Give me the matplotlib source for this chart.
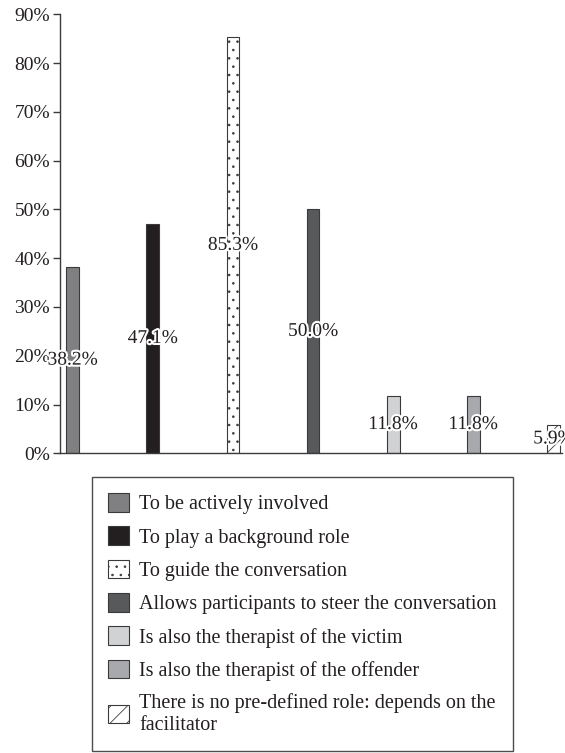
import matplotlib
matplotlib.use("Agg")
import matplotlib.pyplot as plt
import matplotlib.patheffects as pe
from matplotlib.patches import Patch

plt.rcParams['font.family'] = ['Liberation Serif', 'DejaVu Serif']
plt.rcParams['hatch.linewidth'] = 0.6

categories = [
    "To be actively involved",
    "To play a background role",
    "To guide the conversation",
    "Allows participants to steer the conversation",
    "Is also the therapist of the victim",
    "Is also the therapist of the offender",
    "There is no pre-defined role: depends on the\nfacilitator",
]
values = [38.2, 47.1, 85.3, 50.0, 11.8, 11.8, 5.9]
colors = ["#808083", "#231f20", "#ffffff", "#58595b", "#d1d2d4", "#a7a9ac", "#ffffff"]
hatches = [None, None, "..", None, None, None, "//"]
yticks = [0, 10, 20, 30, 40, 50, 60, 70, 80, 90]

edge = "#3a3a3a"
text_color = "#231f20"

fig = plt.figure(figsize=(5.65, 7.53), dpi=100)
ax = fig.add_axes([0.106, 0.398, 0.889, 0.583])

x = list(range(len(values)))
bars = ax.bar(x, values, width=0.16, color=colors, edgecolor=edge, linewidth=0.8)
for b, h in zip(bars, hatches):
    if h:
        b.set_hatch(h)

for xi, v in zip(x, values):
    ax.text(xi, v / 2, f"{v:.1f}%", ha="center", va="center", fontsize=14,
            color=text_color, clip_on=False,
            path_effects=[pe.withStroke(linewidth=3, foreground="white")])

ax.set_xlim(-0.16, 6.11)
ax.set_ylim(0, 90)
ax.set_yticks(yticks)
ax.set_yticklabels([f"{t}%" for t in yticks], fontsize=14, color=text_color)
ax.set_xticks([])
for s in ["top", "right"]:
    ax.spines[s].set_visible(False)
for s in ["left", "bottom"]:
    ax.spines[s].set_color(edge)
    ax.spines[s].set_linewidth(1.0)
ax.tick_params(axis="y", direction="out", length=5, color=edge, width=1.0, pad=2)

handles = [Patch(facecolor=c, edgecolor=edge, hatch=h, linewidth=0.8)
           for c, h in zip(colors, hatches)]
leg = fig.legend(handles, categories, loc="lower left",
                 bbox_to_anchor=(0.163, 0.003), borderaxespad=0, fontsize=14.5,
                 frameon=True, fancybox=False, edgecolor="#231f20",
                 handlelength=1.05, handleheight=1.05, handletextpad=0.5,
                 labelspacing=0.6, borderpad=0.8, labelcolor=text_color)
leg.get_frame().set_linewidth(1.0)

fig.savefig("out.png", dpi=100)
